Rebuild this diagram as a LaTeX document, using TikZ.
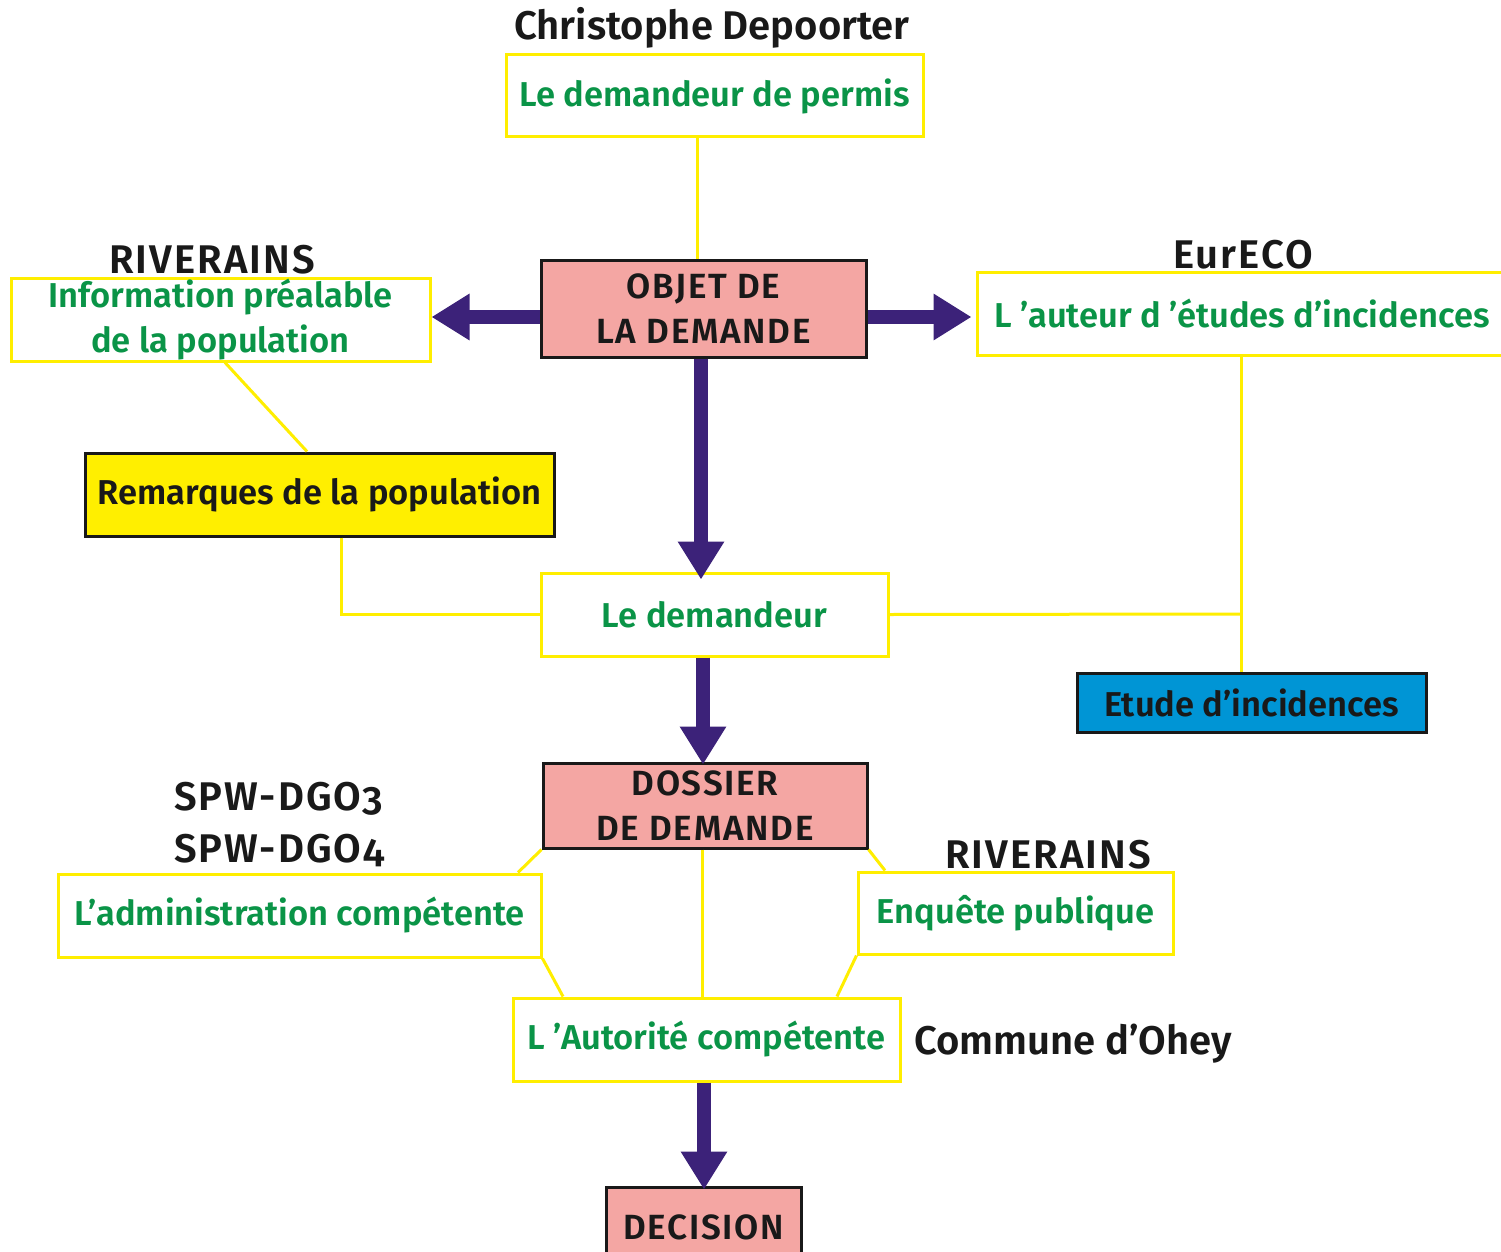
\documentclass[tikz,border=0pt]{standalone}
\usepackage{fontspec}
\setmainfont{Fira Sans}[Numbers=OldStyle, BoldFont={Fira Sans SemiBold}]
\usetikzlibrary{arrows.meta}
\definecolor{tgreen}{HTML}{0A9447}
\definecolor{tyellow}{HTML}{FFEE00}
\definecolor{tpurple}{HTML}{3C2279}
\definecolor{tpink}{HTML}{F4A6A3}
\definecolor{tblue}{HTML}{0095D5}
\definecolor{tfill}{HTML}{FFEF00}
\newcommand{\capsp}{\addfontfeatures{LetterSpace=5}}
\newcommand{\capl}{\addfontfeatures{LetterSpace=5}}
\tikzset{
  ybox/.style={draw=tyellow, line width=3pt, fill=white, text=tgreen, font=\bfseries\fontsize{34.5}{45}\selectfont, align=center, inner sep=0pt},
  kbox/.style={draw=black!90, line width=3pt, text=black!90, font=\bfseries\fontsize{34.5}{45}\selectfont, align=center, inner sep=0pt},
  capbox/.style={kbox, fill=tpink, font=\bfseries\fontsize{35}{45}\selectfont\capsp},
  lbl/.style={text=black!90, font=\bfseries\fontsize{40}{52}\selectfont, inner sep=0pt, align=left},
  caplbl/.style={lbl, font=\bfseries\fontsize{40}{52}\selectfont\capl},
  link/.style={draw=tyellow, line width=3pt},
  bigarrow/.style={draw=tpurple, line width=14pt, -{Triangle[length=38pt,width=44pt]}}
}
\begin{document}
\begin{tikzpicture}[x=1pt,y=-1pt]
\useasboundingbox[fill=white] (0,0) rectangle (1501,1252);
% labels
\node[lbl] (title) at (712,28) {Christophe Depoorter};
\node[caplbl] (riv1) at (212,260) {RIVERAINS};
\node[caplbl] (eureco) at (1243,255) {EurECO};
\node[caplbl, anchor=west] (spw) at (174,825) {SPW-DGO3\\SPW-DGO4};
\node[caplbl] (riv2) at (1048,855) {RIVERAINS};
\node[lbl, anchor=west] (commune) at (914,1044) {Commune d’Ohey};
% boxes
\node[ybox, minimum width=417, minimum height=82] (permis) at (714.5,96) {Le demandeur de permis};
\node[capbox, minimum width=325, minimum height=97] (obj) at (703.5,308.5) {OBJET DE\\LA DEMANDE};
\node[ybox, minimum width=419, minimum height=83] (info) at (220.5,319.5) {Information préalable\\de la population};
\node[ybox, minimum width=530, minimum height=83] (auteur) at (1242,313.5) {L ’auteur d ’études d’incidences};
\node[kbox, fill=tfill, minimum width=469, minimum height=83] (rem) at (319.5,494.5) {Remarques de la population};
\node[ybox, minimum width=347, minimum height=83] (dem) at (714.5,614.5) {Le demandeur};
\node[kbox, fill=tblue, minimum width=349, minimum height=59] (etude) at (1251.5,702.5) {Etude d’incidences};
\node[capbox, minimum width=324, minimum height=85] (dossier) at (705,805.5) {DOSSIER\\DE DEMANDE};
\node[ybox, minimum width=483, minimum height=83] (admin) at (299.5,915.5) {L’administration compétente};
\node[ybox, minimum width=315, minimum height=82] (enq) at (1015.5,913) {Enquête publique};
\node[ybox, minimum width=387, minimum height=83] (aut) at (706.5,1039.5) {L ’Autorité compétente};
\node[capbox, minimum width=195, minimum height=80] (dec) at (703.5,1227) {DECISION};
% yellow links
\draw[link] (permis.south -| 697,0) -- (obj.north -| 697,0);
\draw[link] (info.south -| 225,0) -- (rem.north -| 307,0);
\draw[link] (rem.south -| 341,0) |- (dem.west);
\draw[link] (dem.east) -- (1241,614);
\draw[link] (auteur.south -| 1241,0) -- (etude.north -| 1241,0);
\draw[link] (dossier.south west) -- (admin.north -| 518,0);
\draw[link] (admin.south east) -- (aut.north -| 563,0);
\draw[link] (dossier.south -| 702,0) -- (aut.north -| 702,0);
\draw[link] (dossier.south east) -- (enq.north -| 885,0);
\draw[link] (enq.south west) -- (aut.north -| 837,0);
% purple arrows
\draw[bigarrow] (obj.west |- 0,317) -- (info.east |- 0,317);
\draw[bigarrow] (obj.east |- 0,317) -- ([xshift=-4pt]auteur.west |- 0,317);
\draw[bigarrow] (obj.south -| 701,0) -- ([yshift=-8pt]dem.north -| 701,0);
\draw[bigarrow] (dem.south -| 703,0) -- ([yshift=-3pt]dossier.north -| 703,0);
\draw[bigarrow] (aut.south -| 704,0) -- ([yshift=-4pt]dec.north -| 704,0);
\end{tikzpicture}
\end{document}
